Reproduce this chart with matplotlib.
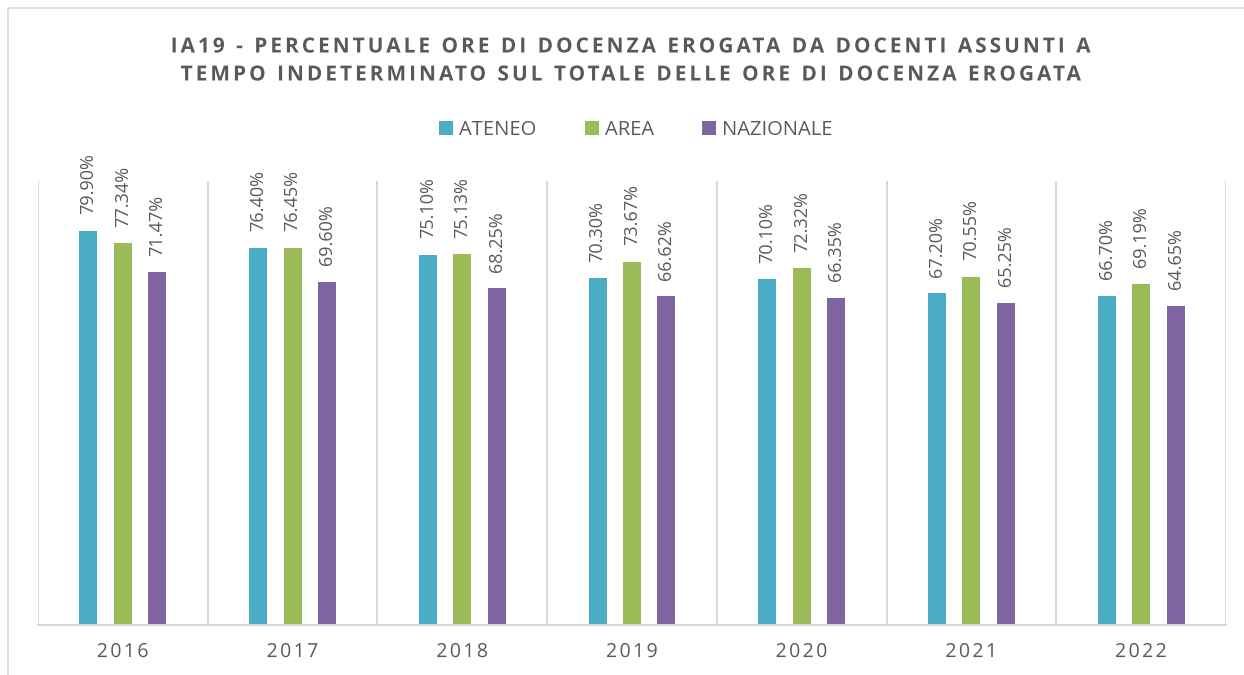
import matplotlib
matplotlib.use("Agg")
import matplotlib.pyplot as plt
from matplotlib import patheffects
from matplotlib.patches import Rectangle
from matplotlib.path import Path
from matplotlib.textpath import text_to_path
from matplotlib.font_manager import findfont, get_font
import numpy as np

years = ["2016", "2017", "2018", "2019", "2020", "2021", "2022"]
ateneo = [79.90, 76.40, 75.10, 70.30, 70.10, 67.20, 66.70]
area = [77.34, 76.45, 75.13, 73.67, 72.32, 70.55, 69.19]
nazionale = [71.47, 69.60, 68.25, 66.62, 66.35, 65.25, 64.65]

series = [("ATENEO", ateneo, "#4BACC6"),
          ("AREA", area, "#9BBB59"),
          ("NAZIONALE", nazionale, "#8064A2")]

title_1 = "IA19 - PERCENTUALE ORE DI DOCENZA EROGATA DA DOCENTI ASSUNTI A"
title_2 = "TEMPO INDETERMINATO SUL TOTALE DELLE ORE DI DOCENZA EROGATA"

grey = "#595959"
line_grey = "#D9D9D9"
plt.rcParams['font.family'] = ['Open Sans', 'DejaVu Sans']


class Tracking(patheffects.AbstractPathEffect):
    """Spread the glyphs of a centred text apart by `px` pixels."""

    def __init__(self, text, prop, px):
        super().__init__()
        self.text = text
        self.prop = prop
        self.px = px

    def draw_path(self, renderer, gc, tpath, affine, rgbFace=None):
        font = get_font(findfont(self.prop))
        font.set_size(text_to_path.FONT_SCALE, text_to_path.DPI)
        glyphs = text_to_path.get_glyphs_with_font(font, self.text)[0]
        starts = np.array([g[1] for g in glyphs])
        n = len(starts)
        step = self.px / abs(affine.get_matrix()[0, 0])
        verts = tpath.vertices.copy()
        codes = tpath.codes
        cuts = list(np.where(codes == Path.MOVETO)[0]) + [len(codes)]
        for a, b in zip(cuts[:-1], cuts[1:]):
            real = codes[a:b] != Path.CLOSEPOLY
            xs = verts[a:b][real, 0]
            cx = (xs.min() + xs.max()) / 2
            i = max(np.searchsorted(starts, cx, side="right") - 1, 0)
            verts[a:b, 0] += (i - (n - 1) / 2) * step
        renderer.draw_path(gc, Path(verts, codes), affine, rgbFace)


fig = plt.figure(figsize=(12.44, 6.75), dpi=100)
ax = fig.add_axes([38 / 1244, 50 / 675, 1188 / 1244, 444 / 675])

# outer chart frame
fig.patches.append(Rectangle((8 / 1244, -0.1), 1.2, 1.1 - 8 / 675,
                             transform=fig.transFigure, fill=False,
                             edgecolor=line_grey, linewidth=1.2))

x = np.arange(len(years))
width = 0.106
offset = 0.203
for i, (name, vals, col) in enumerate(series):
    pos = x + (i - 1) * offset
    bars = ax.bar(pos, vals, width, color=col, label=name)
    for b, v in zip(bars, vals):
        ax.annotate(f"{v:.2f}%", (b.get_x() + b.get_width() / 2, v),
                    xytext=(0, 12), textcoords="offset points",
                    rotation=90, ha="center", va="bottom",
                    fontsize=13, color=grey)

ax.set_xlim(-0.5, len(years) - 0.5)
ax.set_ylim(0, 90)
ax.set_yticks([])
ax.set_xticks(x)
ax.set_xticklabels(years, fontsize=14, color=grey)
ax.tick_params(axis="x", length=0, pad=13)
for lab in ax.get_xticklabels():
    lab.set_path_effects([Tracking(lab.get_text(), lab.get_fontproperties(), 2.4)])

# category separators
for b in np.arange(-0.5, len(years), 1.0):
    ax.axvline(b, color=line_grey, linewidth=1.5, zorder=0)

for s in ["top", "left", "right"]:
    ax.spines[s].set_visible(False)
ax.spines["bottom"].set_color(line_grey)
ax.spines["bottom"].set_linewidth(1.5)

for txt, ypix in [(title_1, 47), (title_2, 75)]:
    t = fig.text(631 / 1244, 1 - ypix / 675, txt, ha="center", va="center",
                 fontsize=15, fontweight="bold", color=grey)
    t.set_path_effects([Tracking(txt, t.get_fontproperties(), 3.0)])

fig.legend(loc="center", bbox_to_anchor=(636 / 1244, 1 - 130 / 675), ncol=3,
           frameon=False, fontsize=14.5, handlelength=0.7, handleheight=0.7,
           handletextpad=0.3, columnspacing=2.4, labelcolor=grey)

fig.savefig("out.png", dpi=100)
